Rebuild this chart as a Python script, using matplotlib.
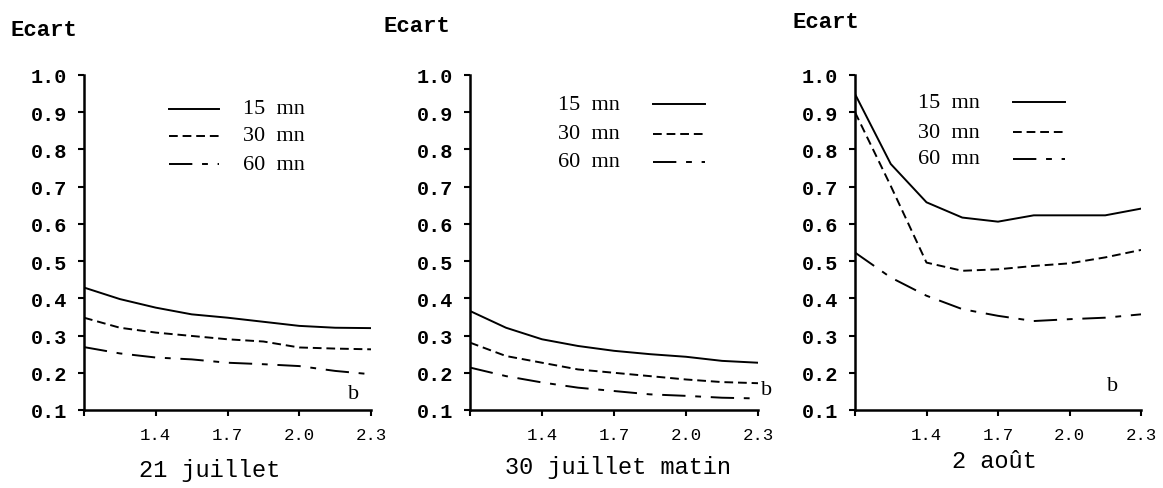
import numpy as np
import matplotlib
matplotlib.use("Agg")
import matplotlib.pyplot as plt

# data (x = class width, y = Ecart)
x = [1.1, 1.25, 1.4, 1.55, 1.7, 1.85, 2.0, 2.15, 2.3]

juil21_15 = [0.429, 0.398, 0.375, 0.357, 0.348, 0.337, 0.326, 0.321, 0.320]
juil21_30 = [0.348, 0.321, 0.308, 0.299, 0.290, 0.284, 0.268, 0.265, 0.263]
juil21_60 = [0.269, 0.252, 0.241, 0.236, 0.227, 0.223, 0.218, 0.205, 0.196]

juil30_15 = [0.366, 0.321, 0.290, 0.272, 0.259, 0.250, 0.243, 0.232, 0.227]
juil30_30 = [0.281, 0.245, 0.227, 0.209, 0.200, 0.191, 0.182, 0.175, 0.172]
juil30_60 = [0.214, 0.191, 0.174, 0.160, 0.151, 0.142, 0.138, 0.133, 0.131]

aout2_15 = [0.949, 0.761, 0.658, 0.617, 0.606, 0.623, 0.623, 0.623, 0.641]
aout2_30 = [0.900, 0.702, 0.496, 0.474, 0.478, 0.487, 0.494, 0.510, 0.530]
aout2_60 = [0.523, 0.456, 0.407, 0.371, 0.353, 0.339, 0.344, 0.348, 0.357]

series_labels = ["15  mn", "30  mn", "60  mn"]
titles = ["21 juillet", "30 juillet matin", "2 août"]
xticks = [1.1, 1.4, 1.7, 2.0, 2.3]
xtick_labels = ["", "1.4", "1.7", "2.0", "2.3"]
yticks = [0.1, 0.2, 0.3, 0.4, 0.5, 0.6, 0.7, 0.8, 0.9, 1.0]

panels = [
    (juil21_15, juil21_30, juil21_60),
    (juil30_15, juil30_30, juil30_60),
    (aout2_15, aout2_30, aout2_60),
]

W, H = 1163, 489
fig = plt.figure(figsize=(W / 100, H / 100), dpi=100)

# axes boxes in pixels: left, right
boxes = [(84, 371), (470, 758), (855, 1141)]
top_px, bot_px = 76, 411

styles = [
    dict(linestyle="-"),
    dict(linestyle=(0, (4.5, 2.5))),
    dict(linestyle=(0, (12, 5, 3, 5))),
]

# legend placement: text x, line x0, line x1, row ys
legends = [
    (243, 169, 219, [110, 137, 165]),
    (558, 653, 705, [105, 135, 163]),
    (918, 1013, 1065, [103, 133, 160]),
]
b_pos = [(2.225, 0.145), (2.335, 0.155), (2.18, 0.165)]
ecart_x = [10, 383, 793]
ecart_y = [30, 27, 23]
title_pos = [(210, 471), (618, 468), (994, 462)]

mono = "Liberation Mono"
serif = "Liberation Serif"

for i, (l, r) in enumerate(boxes):
    ax = fig.add_axes([l / W, 1 - bot_px / H, (r - l) / W, (bot_px - top_px) / H])
    for ys, st in zip(panels[i], styles):
        ax.plot(x, ys, color="black", lw=1.4, **st)
    ax.set_xlim(1.1, 2.3)
    ax.set_ylim(0.1, 1.0)
    ax.set_xticks(xticks)
    ax.set_xticklabels(xtick_labels, fontfamily=mono, fontsize=12.5)
    ax.set_yticks(yticks)
    ax.set_yticklabels([f"{v:.1f}" for v in yticks], fontfamily=mono,
                       fontsize=14.5, fontweight="bold")
    for s in ["top", "right"]:
        ax.spines[s].set_visible(False)
    for s in ["left", "bottom"]:
        ax.spines[s].set_linewidth(1.8)
    ax.tick_params(length=4, width=1.5, pad=8)
    ax.tick_params(axis="y", pad=8)
    ax.text(b_pos[i][0], b_pos[i][1], "b", fontfamily=serif, fontsize=16,
            ha="center", va="center")

    # hand drawn legend
    tx, lx0, lx1, rows = legends[i]
    for lab, ry, st in zip(series_labels, rows, styles):
        fig.add_artist(plt.Line2D([lx0 / W, lx1 / W], [1 - ry / H, 1 - ry / H],
                                  color="black", lw=1.4, **st))
        fig.text(tx / W, 1 - ry / H, lab, fontfamily=serif, fontsize=16,
                 ha="left", va="center")

    fig.text(ecart_x[i] / W, 1 - ecart_y[i] / H, "Ecart", fontfamily=mono,
             fontsize=16, fontweight="bold", ha="left", va="center")
    fig.text(title_pos[i][0] / W, 1 - title_pos[i][1] / H, titles[i],
             fontfamily=mono, fontsize=17, ha="center", va="center")

fig.savefig("out.png", dpi=100)
